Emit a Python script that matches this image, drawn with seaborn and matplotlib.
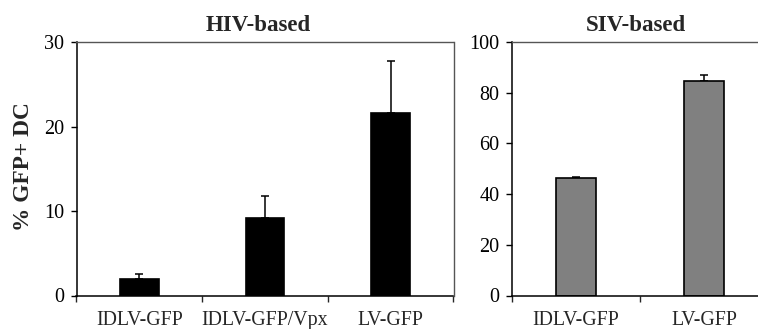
import numpy as np
import pandas as pd
import matplotlib
matplotlib.use('Agg')
import matplotlib.pyplot as plt
import seaborn as sns

# ---------------  Data  ------------
hiv_labels = ['IDLV-GFP', 'IDLV-GFP/Vpx', 'LV-GFP']
hiv_values = [2.0, 9.2, 21.6]
hiv_err = [0.6, 2.6, 6.1]

siv_labels = ['IDLV-GFP', 'LV-GFP']
siv_values = [46.3, 84.5]
siv_err = [0.6, 2.5]

hiv_df = pd.DataFrame({'vector': hiv_labels, 'pct': hiv_values})
siv_df = pd.DataFrame({'vector': siv_labels, 'pct': siv_values})

# ---------------  Style  ------------
sns.set_theme(style='ticks')
plt.rcParams['font.family'] = ['Liberation Serif', 'DejaVu Serif']

W, H = 758, 329
fig = plt.figure(figsize=(W / 100, H / 100), dpi=100)

ax1 = fig.add_axes([76.5 / W, 1 - 295.5 / H, 377 / W, 253.5 / H])
ax2 = fig.add_axes([512 / W, 1 - 295.5 / H, 256 / W, 253.5 / H])


def draw_panel(ax, df, err, ymax, yticks, face, title, title_x):
    sns.barplot(data=df, x='vector', y='pct', ax=ax, color=face,
                saturation=1, width=0.31, edgecolor='black', linewidth=1.2,
                errorbar=None, zorder=2)
    pos = np.arange(len(df))
    ax.errorbar(pos, df['pct'], yerr=[np.zeros(len(err)), err], fmt='none',
                ecolor='black', elinewidth=1.1, capsize=2.9, capthick=1.1, zorder=1)
    ax.set_xlim(-0.5, len(df) - 0.5)
    ax.set_ylim(0, ymax)
    ax.set_yticks(yticks)
    ax.tick_params(axis='y', direction='out', length=4, width=1, labelsize=14.5,
                   pad=5, colors='black')
    # category boundaries get the ticks, labels sit in between
    ax.set_xticks(np.arange(len(df) + 1) - 0.5)
    ax.set_xticklabels([])
    ax.set_xticks(pos, minor=True)
    ax.set_xticklabels(df['vector'], minor=True)
    ax.tick_params(axis='x', which='major', direction='out', length=4.5, width=1)
    ax.tick_params(axis='x', which='minor', length=0, labelsize=14.3, pad=11)
    ax.set_xlabel('')
    ax.set_ylabel('')
    for side in ['left', 'bottom']:
        ax.spines[side].set_color('black')
        ax.spines[side].set_linewidth(1.1)
    for side in ['top', 'right']:
        ax.spines[side].set_visible(True)
        ax.spines[side].set_color('#555555')
        ax.spines[side].set_linewidth(1.0)
    ax.set_title(title, fontsize=16.5, fontweight='bold', x=title_x, pad=8)


draw_panel(ax1, hiv_df, hiv_err, 30, [0, 10, 20, 30], 'black', 'HIV-based',
           (258 - 76.5) / 377)
draw_panel(ax2, siv_df, siv_err, 100, [0, 20, 40, 60, 80, 100], '#808080',
           'SIV-based', (636 - 512) / 256)

fig.text(24 / W, 1 - 166.5 / H, '% GFP+ DC', rotation=90, ha='center',
         va='center', fontsize=16.8, fontweight='bold')

fig.savefig('out.png', dpi=100)
